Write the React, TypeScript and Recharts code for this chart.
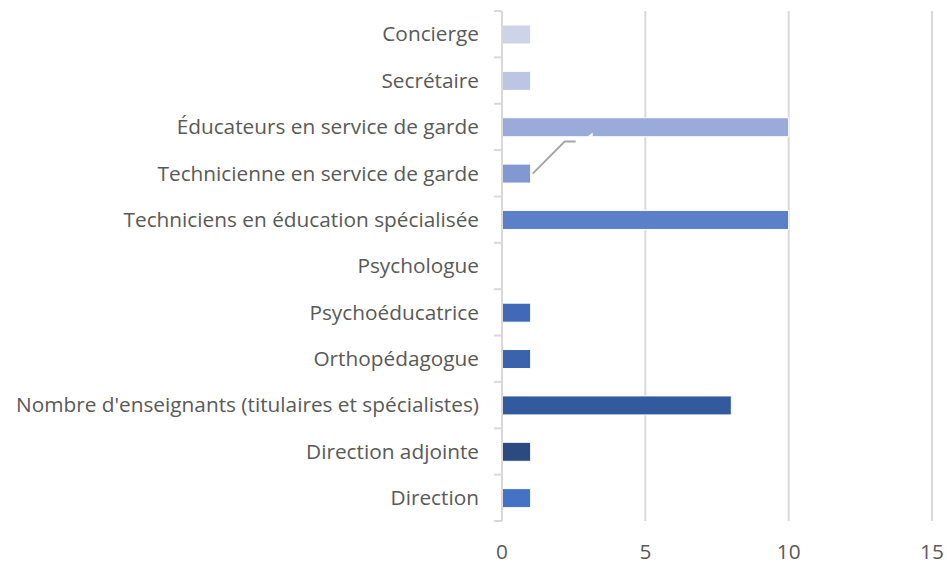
import React from "react";
import { BarChart, Bar, XAxis, YAxis, CartesianGrid, Cell, LabelList } from "recharts";

// top to bottom, as in the reference
const categories = [
  "Concierge",
  "Secrétaire",
  "Éducateurs en service de garde",
  "Technicienne en service de garde",
  "Techniciens en éducation spécialisée",
  "Psychologue",
  "Psychoéducatrice",
  "Orthopédagogue",
  "Nombre d'enseignants (titulaires et spécialistes)",
  "Direction adjointe",
  "Direction",
];
const values = [1, 1, 10, 1, 10, 0, 1, 1, 8, 1, 1];
const colors = [
  "#cdd4ea",
  "#bcc6e4",
  "#9aabd9",
  "#8198d2",
  "#5b7fc8",
  "#4a72c0",
  "#4169b8",
  "#3b62ad",
  "#335a9e",
  "#2b4a80",
  "#4472c4",
];
const xTicks = [0, 5, 10, 15];

const data = categories.map((name, i) => ({ name, value: values[i] }));

const TEXT = "#595959";
const AXIS = "#d9d9d9";
const FONT = "'Open Sans', sans-serif";
const FS = 20.8;

function CatTick(props: any) {
  const { x, y, payload, index } = props;
  const off = payload.offset || 0;
  const ax = x + 8;
  return (
    <g>
      <line x1={ax - 8} x2={ax} y1={y - off} y2={y - off} stroke={AXIS} strokeWidth={2} />
      {index === categories.length - 1 && (
        <line x1={ax - 8} x2={ax} y1={y + off} y2={y + off} stroke={AXIS} strokeWidth={2} />
      )}
      <text x={x - 15} y={y} dy="0.35em" textAnchor="end" fill={TEXT} fontSize={FS} fontFamily={FONT}>
        {payload.value}
      </text>
    </g>
  );
}

// leader line left over from a moved data label
function Leader(props: any) {
  const { x, y, width, height, index } = props;
  if (index !== 3) return null;
  const x0 = x + width;
  const y0 = y + height / 2;
  return (
    <g>
      <polyline
        points={`${x0 + 2},${y0} ${x0 + 34},${y0 - 32} ${x0 + 45},${y0 - 32}`}
        fill="none"
        stroke="#a6a6a6"
        strokeWidth={2}
      />
      <polygon
        points={`${x0 + 57},${y0 - 37} ${x0 + 62},${y0 - 41} ${x0 + 62},${y0 - 37}`}
        fill="#ffffff"
      />
    </g>
  );
}

export default function App() {
  return (
    <div style={{ position: "absolute", left: 0, top: 0, background: "#fff" }}>
      <BarChart
        width={947}
        height={565}
        data={data}
        layout="vertical"
        margin={{ top: 11, right: 15, bottom: 0, left: 0 }}
        barSize={19}
      >
        <CartesianGrid horizontal={false} stroke={AXIS} strokeWidth={2} />
        <XAxis
          type="number"
          domain={[0, 15]}
          ticks={xTicks}
          axisLine={false}
          tickLine={false}
          height={44}
          tickMargin={17}
          tick={{ fill: TEXT, fontSize: FS, fontFamily: FONT }}
        />
        <YAxis
          type="category"
          dataKey="name"
          width={502}
          axisLine={{ stroke: AXIS, strokeWidth: 2 }}
          tickLine={false}
          tick={<CatTick />}
          interval={0}
        />
        <Bar dataKey="value" isAnimationActive={false} stroke="#ffffff" strokeWidth={1}>
          {data.map((d, i) => (
            <Cell key={d.name} fill={colors[i]} />
          ))}
          <LabelList dataKey="value" content={<Leader />} />
        </Bar>
      </BarChart>
    </div>
  );
}
